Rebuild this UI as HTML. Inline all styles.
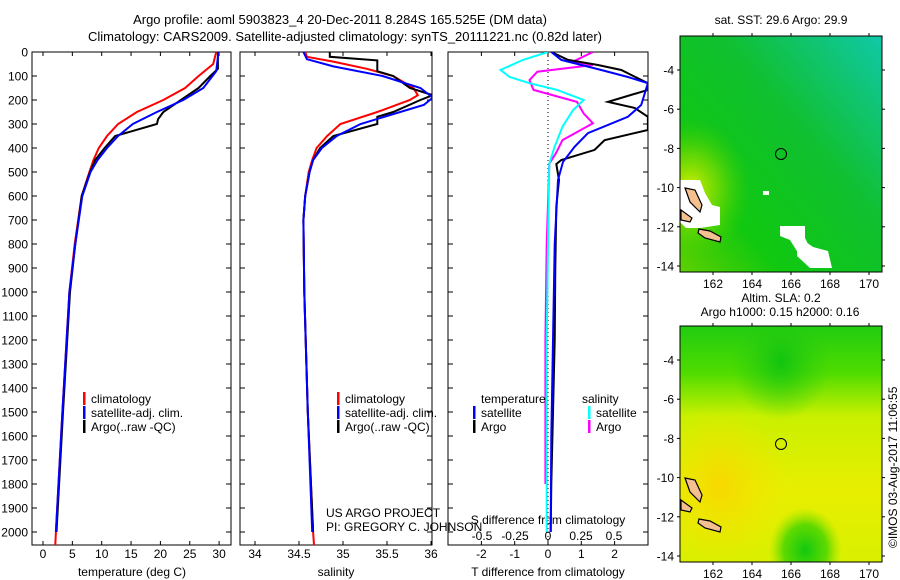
<!DOCTYPE html>
<html><head><meta charset="utf-8">
<style>
body{margin:0;background:#fff;}
svg{display:block;font-family:"Liberation Sans",sans-serif;}
text{fill:#000;}
</style></head>
<body>
<svg id="fig" width="900" height="580" viewBox="0 0 900 580">
<defs>
<linearGradient id="sstg" x1="0" y1="1" x2="1" y2="0">
<stop offset="0" stop-color="#5fd000"/><stop offset="0.25" stop-color="#10c810"/><stop offset="0.6" stop-color="#10c030"/><stop offset="1" stop-color="#10c8a8"/>
</linearGradient>
<radialGradient id="sstyel" cx="0.05" cy="0.65" r="0.3"><stop offset="0" stop-color="#d8f000"/><stop offset="0.5" stop-color="#80dc00" stop-opacity="0.7"/><stop offset="1" stop-color="#40d000" stop-opacity="0"/></radialGradient>
<linearGradient id="slag" x1="0" y1="0" x2="0" y2="1">
<stop offset="0" stop-color="#20cc10"/><stop offset="0.2" stop-color="#50dc00"/><stop offset="0.38" stop-color="#c8f000"/><stop offset="0.7" stop-color="#e8ee00"/><stop offset="1" stop-color="#d8f000"/>
</linearGradient>
<radialGradient id="slaor" cx="0.2" cy="0.68" r="0.35"><stop offset="0" stop-color="#f8d800"/><stop offset="1" stop-color="#f0e800" stop-opacity="0"/></radialGradient>
<radialGradient id="slagr" cx="0.62" cy="0.95" r="0.18"><stop offset="0" stop-color="#10c810"/><stop offset="0.6" stop-color="#40d400" stop-opacity="0.8"/><stop offset="1" stop-color="#80e000" stop-opacity="0"/></radialGradient>
<radialGradient id="slagt" cx="0.5" cy="0.15" r="0.25"><stop offset="0" stop-color="#10c410"/><stop offset="1" stop-color="#30cc10" stop-opacity="0"/></radialGradient>
<clipPath id="c1"><rect x="32" y="52" width="199" height="493"/></clipPath>
<clipPath id="c2"><rect x="240" y="52" width="192" height="493"/></clipPath>
<clipPath id="c3"><rect x="448" y="52" width="200" height="493"/></clipPath>
</defs>

<text x="340" y="24" font-size="13" text-anchor="middle">Argo profile: aoml 5903823_4 20-Dec-2011 8.284S 165.525E (DM data)</text>
<text x="345" y="41" font-size="13" text-anchor="middle">Climatology: CARS2009. Satellite-adjusted climatology: synTS_20111221.nc (0.82d later)</text>

<g id="p1"></g>
<g id="p2"></g>
<g id="p3"></g>

<!-- Maps -->
<g>
<rect x="680" y="36" width="202" height="236" fill="url(#sstg)"/>
<rect x="680" y="36" width="202" height="236" fill="url(#sstyel)"/>
<path d="M680,180 L700,180 L705,193 L712,205 L720,207 L720,225 L700,228 L686,228 L680,222 Z" fill="#fff"/>
<path d="M780,226 L805,226 L805,238 L812,252 L800,256 L790,240 L780,236 Z" fill="#fff"/>
<path d="M797,283 L803,280 L813,287 L828,291 L832,308 L810,308 L797,296 Z" fill="#fff" transform="translate(0,-40)"/>
<rect x="763" y="191" width="6" height="4" fill="#fff"/>
<path d="M685,188 L695,190 L702,205 L700,212 L690,202 Z" fill="#f4c090" stroke="#000" stroke-width="1.2"/>
<path d="M681,210 L692,218 L690,222 L681,220 Z" fill="#f4c090" stroke="#000" stroke-width="1.2"/>
<path d="M699,229 L710,231 L721,237 L720,242 L705,238 L698,233 Z" fill="#f4c090" stroke="#000" stroke-width="1.2"/>
<circle cx="781" cy="154" r="5.5" fill="none" stroke="#000" stroke-width="1"/>
<rect x="680" y="36" width="202" height="236" fill="none" stroke="#000"/>
<text x="781" y="24" font-size="12" text-anchor="middle">sat. SST: 29.6 Argo: 29.9</text>
</g>
<g>
<rect x="680" y="326" width="202" height="236" fill="url(#slag)"/>
<rect x="680" y="326" width="202" height="236" fill="url(#slaor)"/>
<rect x="680" y="326" width="202" height="236" fill="url(#slagr)"/>
<rect x="680" y="326" width="202" height="236" fill="url(#slagt)"/>
<path d="M685,478 L695,480 L702,495 L700,502 L690,492 Z" fill="#f4c090" stroke="#000" stroke-width="1.2"/>
<path d="M681,500 L692,508 L690,512 L681,510 Z" fill="#f4c090" stroke="#000" stroke-width="1.2"/>
<path d="M699,519 L710,521 L721,527 L720,532 L705,528 L698,523 Z" fill="#f4c090" stroke="#000" stroke-width="1.2"/>
<circle cx="781" cy="444" r="5.5" fill="none" stroke="#000" stroke-width="1"/>
<rect x="680" y="326" width="202" height="236" fill="none" stroke="#000"/>
<text x="781" y="302" font-size="12" text-anchor="middle">Altim. SLA: 0.2</text>
<text x="780" y="316" font-size="12" text-anchor="middle">Argo h1000: 0.15 h2000: 0.16</text>
</g>
<text x="0" y="0" font-size="12" transform="translate(897,548) rotate(-90)">©IMOS 03-Aug-2017 11:06:55</text>
<g id="maps-axes"></g>

<script>
// ---------- data ----------
const depthTicks = [0,100,200,300,400,500,600,700,800,900,1000,1100,1200,1300,1400,1500,1600,1700,1800,1900,2000];
const tempTicks = [0,5,10,15,20,25,30];
const salTicks = [34,34.5,35,35.5,36];
const salTickLabels = ["34","34.5","35","35.5","36"];
const tdTicks = [-2,-1,0,1,2];
const sdTicks = [-0.5,-0.25,0,0.25,0.5];
const sdTickLabels = ["-0.5","-0.25","0","0.25","0.5"];

const tArgoDepth = [0,70,100,150,200,220,250,280,300,350,400,450,500,600,800,1000,1500,2000];
const tArgoVal   = [29.8,29.8,28.5,26.5,23.5,22.3,20.5,19.6,19.4,12.3,10.5,8.9,8.0,6.6,5.5,4.6,3.4,2.3];
const tClimDepth = [0,50,100,150,200,250,300,350,400,450,500,600,800,1000,1500,2000,2054];
const tClimVal   = [29.5,29.0,26.5,24.2,20.5,16.0,12.8,10.9,9.5,8.6,7.9,6.6,5.4,4.5,3.3,2.2,2.1];
const tSatDepth  = [0,80,150,200,250,300,350,400,450,500,600,800,1000,1500,2000];
const tSatVal    = [29.9,29.5,27.3,23.9,19.4,15.3,12.8,10.9,9.3,8.1,6.7,5.5,4.5,3.3,2.2];

const sArgoDepth = [0,20,35,60,80,100,150,180,200,250,270,300,350,400,450,500,600,700,1000,1500,2000];
const sArgoVal   = [34.85,34.85,35.39,35.39,35.39,35.57,35.76,36.02,35.88,35.57,35.39,35.39,34.89,34.74,34.66,34.62,34.57,34.55,34.56,34.6,34.66];
const sClimDepth = [0,20,40,70,100,150,180,200,250,300,350,400,450,500,600,700,1000,1500,2000,2054];
const sClimVal   = [34.57,34.59,34.89,35.27,35.57,35.8,35.85,35.76,35.39,34.97,34.82,34.7,34.65,34.61,34.57,34.55,34.56,34.6,34.66,34.67];
const sSatDepth  = [0,30,60,100,150,190,220,250,300,350,400,450,500,600,700,1000,1500,2000];
const sSatVal    = [34.55,34.59,34.89,35.45,35.88,36.02,35.92,35.65,35.2,34.93,34.76,34.66,34.62,34.57,34.55,34.56,34.6,34.65];

const dTArgoDepth = [0,33,54,75,96,130,158,208,233,270,325,367,408,450,467,533,645,900,1200,1500,1800,2000];
const dTArgoVal   = [0.1,0.6,1.5,2.2,2.5,3.0,3.0,1.8,2.6,3.0,3.0,1.7,1.4,0.4,0.25,0.33,0.25,0.22,0.2,0.15,0.1,0.08];
const dTSatDepth  = [0,33,75,104,130,221,270,338,395,458,533,800,1200,1600,2000];
const dTSatVal    = [0.1,0.4,1.6,2.4,3.0,2.8,2.4,1.2,0.8,0.45,0.3,0.2,0.15,0.1,0.08];
const dSSatDepth  = [0,33,75,104,130,158,200,242,311,395,465,800,1200,1600,2000];
const dSSatVal    = [0,-0.19,-0.36,-0.29,-0.14,0.07,0.27,0.19,0.11,0.05,0.01,0.0,-0.01,-0.01,-0.01];
const dSArgoDepth = [0,40,54,82,117,158,208,256,297,367,422,465,800,1200,1500,1800];
const dSArgoVal   = [0.34,0.19,0.34,-0.08,-0.14,-0.11,0.22,0.27,0.34,0.11,0.06,0.01,-0.01,-0.02,-0.02,-0.02];

const mapLonTicks = [162,164,166,168,170];
const mapLatTicks = [-4,-6,-8,-10,-12,-14];

// ---------- helpers ----------
const NS = "http://www.w3.org/2000/svg";
const TOP = 52, BOT = 545;
const yD = d => TOP + d * 0.24;
const xT = t => 43 + t * 5.87;
const xS = s => 255 + (s - 34) * 88;
const xDT = v => 548 + v * 33.3;
const xDS = v => 548 + v * 132;
function el(tag, attrs, parent, txt){
  const e = document.createElementNS(NS, tag);
  for (const k in attrs) e.setAttribute(k, attrs[k]);
  if (txt !== undefined) e.textContent = txt;
  parent.appendChild(e);
  return e;
}
function line(parent, depths, vals, xf, color, w, name, clip){
  const pts = depths.map((d,i) => xf(vals[i]).toFixed(1) + "," + yD(d).toFixed(1)).join(" ");
  const p = el("polyline", {points: pts, fill: "none", stroke: color, "stroke-width": w, "clip-path": "url(#" + clip + ")"}, parent);
  
  
}
function frame(parent, x0, x1, name){
  const r = el("rect", {x: x0, y: TOP, width: x1 - x0, height: BOT - TOP, fill: "none", stroke: "#000", "stroke-width": 1}, parent);
  
  
}
function xticks(parent, ticks, labels, xf, ly){
  ticks.forEach((t,i) => {
    const x = xf(t);
    el("line", {x1: x, x2: x, y1: TOP, y2: TOP + 4, stroke: "#000"}, parent);
    el("line", {x1: x, x2: x, y1: BOT, y2: BOT - 4, stroke: "#000"}, parent);
    const tx = el("text", {x: x, y: ly, "font-size": 12, "text-anchor": "middle"}, parent, labels[i]);
    
    
  });
}
function yticks(parent, x0, x1){
  depthTicks.forEach(d => {
    const y = yD(d);
    el("line", {x1: x0, x2: x0 + 5, y1: y, y2: y, stroke: "#000"}, parent);
    el("line", {x1: x1, x2: x1 - 5, y1: y, y2: y, stroke: "#000"}, parent);
  });
}
function legendItem(parent, x, y, color, label){
  const g = el("g", {}, parent);
  
  
  if (color) el("rect", {x: x, y: y - 10, width: 2.5, height: 13, fill: color}, g);
  el("text", {x: x + 8, y: y + 1, "font-size": 12}, g, label);
}

// ---------- panel 1 ----------
const p1 = document.getElementById("p1");
frame(p1, 32, 231, "temperature-axes-frame");
yticks(p1, 32, 231);
depthTicks.forEach(d => {
  const t = el("text", {x: 28, y: yD(d) + 4.5, "font-size": 12, "text-anchor": "end"}, p1, String(d));
  
  
});
xticks(p1, tempTicks, tempTicks.map(String), xT, 558);
const t1 = el("text", {x: 132, y: 576, "font-size": 12, "text-anchor": "middle"}, p1, "temperature (deg C)");


line(p1, tClimDepth, tClimVal, xT, "#f00", 2, "temperature-climatology-line", "c1");
line(p1, tArgoDepth, tArgoVal, xT, "#000", 2, "temperature-argo-line", "c1");
line(p1, tSatDepth, tSatVal, xT, "#00f", 2, "temperature-satellite-line", "c1");
legendItem(p1, 83, 402, "#f00", "climatology");
legendItem(p1, 83, 416, "#00f", "satellite-adj. clim.");
legendItem(p1, 83, 430, "#000", "Argo(..raw -QC)");

// ---------- panel 2 ----------
const p2 = document.getElementById("p2");
frame(p2, 240, 432, "salinity-axes-frame");
yticks(p2, 240, 432);
xticks(p2, salTicks, salTickLabels, xS, 558);
const t2 = el("text", {x: 336, y: 576, "font-size": 12, "text-anchor": "middle"}, p2, "salinity");


line(p2, sClimDepth, sClimVal, xS, "#f00", 2, "salinity-climatology-line", "c2");
line(p2, sArgoDepth, sArgoVal, xS, "#000", 2, "salinity-argo-line", "c2");
line(p2, sSatDepth, sSatVal, xS, "#00f", 2, "salinity-satellite-line", "c2");
legendItem(p2, 337, 402, "#f00", "climatology");
legendItem(p2, 337, 416, "#00f", "satellite-adj. clim.");
legendItem(p2, 337, 430, "#000", "Argo(..raw -QC)");
const u1 = el("text", {x: 326, y: 517, "font-size": 12}, p2, "US ARGO PROJECT");


const u2 = el("text", {x: 326, y: 531, "font-size": 12}, p2, "PI: GREGORY C. JOHNSON");



// ---------- panel 3 ----------
const p3 = document.getElementById("p3");
frame(p3, 448, 648, "difference-axes-frame");
yticks(p3, 448, 648);
xticks(p3, tdTicks, tdTicks.map(String), xDT, 558);
el("line", {x1: 548, x2: 548, y1: TOP, y2: BOT, stroke: "#000", "stroke-dasharray": "1,3"}, p3);
sdTicks.forEach((v,i) => {
  const t = el("text", {x: xDS(v), y: 540, "font-size": 12, "text-anchor": "middle"}, p3, sdTickLabels[i]);
  
  
});
const sdT = el("text", {x: 548, y: 524, "font-size": 12, "text-anchor": "middle"}, p3, "S difference from climatology");


const tdT = el("text", {x: 548, y: 576, "font-size": 12, "text-anchor": "middle"}, p3, "T difference from climatology");


line(p3, dSArgoDepth, dSArgoVal, xDS, "#f0f", 2, "salinity-diff-argo-line", "c3");
line(p3, dTArgoDepth, dTArgoVal, xDT, "#000", 2, "temperature-diff-argo-line", "c3");
line(p3, dTSatDepth, dTSatVal, xDT, "#00f", 2, "temperature-diff-satellite-line", "c3");
line(p3, dSSatDepth, dSSatVal, xDS, "#0ff", 2, "salinity-diff-satellite-line", "c3");
legendItem(p3, 473, 402, null, "temperature");
legendItem(p3, 473, 416, "#00f", "satellite");
legendItem(p3, 473, 430, "#000", "Argo");
legendItem(p3, 574, 402, null, "salinity");
legendItem(p3, 588, 416, "#0ff", "satellite");
legendItem(p3, 588, 430, "#f0f", "Argo");

// ---------- map axes ----------
const ma = document.getElementById("maps-axes");
const lonX = lon => 713 + (lon - 162) * 19.5;
[[36,272,70],[326,562,360]].forEach(([top,bot,lat4]) => {
  const latY = lat => lat4 + (-4 - lat) * 19.6;
  mapLonTicks.forEach(lon => {
    const x = lonX(lon);
    el("line", {x1: x, x2: x, y1: top - 3, y2: top, stroke: "#000"}, ma);
    el("line", {x1: x, x2: x, y1: bot, y2: bot + 3, stroke: "#000"}, ma);
    const t = el("text", {x: x, y: bot + 16, "font-size": 12, "text-anchor": "middle"}, ma, String(lon));
    
    
  });
  mapLatTicks.forEach(lat => {
    const y = latY(lat);
    el("line", {x1: 677, x2: 680, y1: y, y2: y, stroke: "#000"}, ma);
    el("line", {x1: 882, x2: 885, y1: y, y2: y, stroke: "#000"}, ma);
    const t = el("text", {x: 674, y: y + 4.5, "font-size": 12, "text-anchor": "end"}, ma, String(lat));
    
    
  });
});
</script>
</svg>
</body></html>
